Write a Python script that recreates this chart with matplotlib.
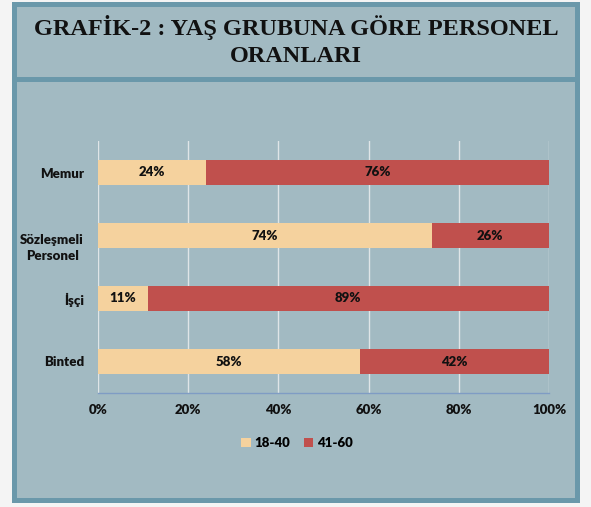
import numpy as np
import matplotlib.pyplot as plt
from matplotlib.patches import Rectangle
from matplotlib.transforms import ScaledTranslation

# --- Dados ---
categorias = ["Memur", "Sözleşmeli\nPersonel", "İşçi", "Binted"]
grupo_18_40 = [24, 74, 11, 58]
grupo_41_60 = [76, 26, 89, 42]
series = ["18-40", "41-60"]
ticks_x = [0, 20, 40, 60, 80, 100]

COR_FUNDO = "#f4f4f4"
COR_BORDA = "#6a98aa"
COR_CAIXA = "#a2bac2"
COR_CLARO = "#f5d29e"
COR_VERMELHO = "#c0504d"

W, H = 591, 507
fig = plt.figure(figsize=(W / 100, H / 100), dpi=100)
fig.patch.set_facecolor(COR_FUNDO)


def caixa(x0, y0, x1, y1, cor):
    # coordenadas em pixels (origem no topo)
    fig.patches.append(Rectangle((x0 / W, 1 - y1 / H), (x1 - x0) / W, (y1 - y0) / H,
                                 transform=fig.transFigure, facecolor=cor,
                                 edgecolor="none", zorder=-2))


caixa(12, 2, 580, 503, COR_BORDA)
caixa(17, 7, 575, 77, COR_CAIXA)
caixa(17, 82, 575, 498, COR_CAIXA)

for linha, ypix in (("GRAFİK-2 : YAŞ GRUBUNA GÖRE PERSONEL", 28), ("ORANLARI", 56)):
    fig.text(296 / W, 1 - ypix / H, linha, ha="center", va="center", fontsize=17.5,
             fontweight="bold", family="Liberation Serif", color="#111111")

ax = fig.add_axes([98 / W, 1 - 393 / H, (549 - 98) / W, (393 - 141) / H])
ax.set_zorder(5)
ax.set_facecolor(COR_CAIXA)

y = np.arange(len(categorias))
fonte = ["Lato", "DejaVu Sans"]
b1 = ax.barh(y, grupo_18_40, height=0.4, color=COR_CLARO, label=series[0], zorder=3)
b2 = ax.barh(y, grupo_41_60, left=grupo_18_40, height=0.4, color=COR_VERMELHO,
             label=series[1], zorder=3)

for barras in (b1, b2):
    for r in barras:
        ax.text(r.get_x() + r.get_width() / 2, r.get_y() + r.get_height() / 2,
                f"{r.get_width():.0f}%", ha="center", va="center", fontsize=9.5,
                fontweight="heavy", family=fonte, color="#111111", zorder=4)

ax.set_xlim(0, 100)
ax.set_ylim(len(categorias) - 0.5, -0.5)
ax.set_xticks(ticks_x)
ax.set_xticklabels([f"{t}%" for t in ticks_x])
ax.set_yticks(y)
ax.set_yticklabels(categorias, multialignment="center", linespacing=1.4)
for lbl in ax.get_xticklabels() + ax.get_yticklabels():
    lbl.set_family(fonte)
    lbl.set_fontweight("heavy")
    lbl.set_fontsize(9.5)
    lbl.set_color("#111111")
ax.tick_params(axis="x", length=0, pad=8)
ax.tick_params(axis="y", length=0, pad=10)
ax.xaxis.grid(True, color="#dfe5e7", linewidth=1, zorder=0)
ax.set_axisbelow(True)
for lado in ("top", "right", "left"):
    ax.spines[lado].set_visible(False)
ax.spines["bottom"].set_color("#7f9cc4")
ax.spines["bottom"].set_linewidth(1)

# o rótulo de duas linhas fica um pouco abaixo do centro da barra
rot = ax.get_yticklabels()[1]
rot.set_transform(rot.get_transform() + ScaledTranslation(0, -0.09, fig.dpi_scale_trans))

leg = fig.legend(handles=[b1, b2], labels=series, loc="center",
                 bbox_to_anchor=(297 / W, 1 - 443 / H), ncol=2, frameon=False,
                 handlelength=0.7, handleheight=0.7, handletextpad=0.3,
                 columnspacing=1.0, prop={"family": fonte, "weight": "heavy", "size": 9.5})

fig.savefig("out.png", dpi=100, facecolor=fig.get_facecolor())
